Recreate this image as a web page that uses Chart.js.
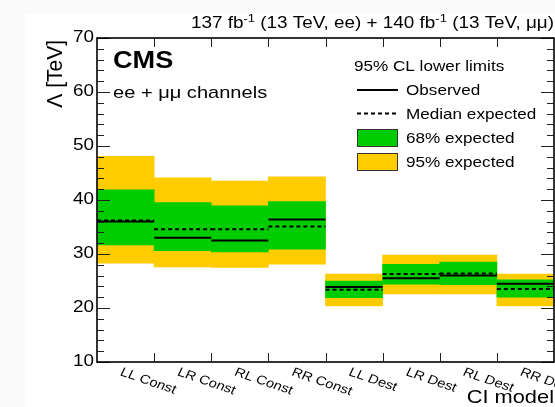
<!DOCTYPE html>
<html>
<head>
<meta charset="utf-8">
<script src="https://cdn.jsdelivr.net/npm/chart.js@4"></script>
<style>
  html, body { margin: 0; padding: 0; background: #fafafa; }
  canvas { display: block; }
</style>
</head>
<body>
<canvas id="myChart" width="555" height="407"></canvas>
<script>
// CI model limits, Lambda in TeV
const models = ['LL Const', 'LR Const', 'RL Const', 'RR Const', 'LL Dest', 'LR Dest', 'RL Dest', 'RR Dest'];
const observed   = [36.0, 33.0, 32.5, 36.4, 23.9, 25.5, 26.0, 24.5];
const expected   = [36.2, 34.6, 34.6, 35.1, 23.4, 26.3, 26.4, 23.5];
const band68Low  = [31.7, 30.6, 30.4, 30.9, 21.9, 24.4, 24.3, 22.0];
const band68High = [41.9, 39.5, 38.9, 39.7, 25.0, 28.1, 28.5, 25.2];
const band95Low  = [28.3, 27.6, 27.5, 28.1, 20.4, 22.6, 22.6, 20.4];
const band95High = [48.1, 44.1, 43.5, 44.3, 26.3, 29.8, 29.8, 26.3];
const yTicks = [10, 20, 30, 40, 50, 60, 70];

const GREEN = '#00cc00';
const YELLOW = '#ffcc00';
const SX = 1.18; // the original picture is a bit stretched sideways
const FONT = '"Liberation Sans", Arial, sans-serif';

// one bar per model, centred in its unit slot on the linear x axis
function bandData(lo, hi) {
  return models.map((m, i) => ({ x: i + 0.5, y: [lo[i], hi[i]] }));
}
// flat segment across each slot, broken between slots
function stepData(vals) {
  const pts = [];
  vals.forEach((v, i) => {
    pts.push({ x: i, y: v });
    pts.push({ x: i + 1, y: v });
    pts.push({ x: i + 1, y: null });
  });
  return pts;
}

function drawText(ctx, str, x, y, font, opts = {}) {
  ctx.save();
  ctx.font = font;
  ctx.fillStyle = '#000';
  ctx.textAlign = opts.align || 'left';
  ctx.textBaseline = opts.baseline || 'alphabetic';
  ctx.translate(x, y);
  ctx.scale(opts.sx || SX, 1);
  if (opts.rotate) ctx.rotate(opts.rotate);
  ctx.fillText(str, 0, 0);
  ctx.restore();
}

const background = {
  id: 'background',
  beforeDraw(chart) {
    const ctx = chart.ctx;
    ctx.save();
    ctx.fillStyle = '#fafafa';
    ctx.fillRect(0, 0, chart.width, chart.height);
    ctx.fillStyle = '#ffffff';
    ctx.fillRect(25, 13, chart.width - 25, chart.height - 13);
    ctx.restore();
  }
};

const frame = {
  id: 'frame',
  afterDatasetsDraw(chart) {
    const ctx = chart.ctx;
    const { left, right, top, bottom } = chart.chartArea;
    const xs = chart.scales.x, ys = chart.scales.y;
    ctx.save();
    // ticks
    ctx.strokeStyle = '#222';
    ctx.lineWidth = 1;
    ctx.beginPath();
    for (let v = ys.min; v <= ys.max; v += 2) {
      const py = Math.round(ys.getPixelForValue(v)) + 0.5;
      const len = v % 10 === 0 ? 13 : 7;
      ctx.moveTo(left, py); ctx.lineTo(left + len, py);
      ctx.moveTo(right, py); ctx.lineTo(right - len, py);
    }
    xs.ticks.forEach(t => {
      if (t.value <= xs.min || t.value >= xs.max) return;
      const px = Math.round(xs.getPixelForValue(t.value)) + 0.5;
      ctx.moveTo(px, bottom); ctx.lineTo(px, bottom - 9);
      ctx.moveTo(px, top); ctx.lineTo(px, top + 9);
    });
    ctx.stroke();
    // box
    ctx.strokeStyle = '#000';
    ctx.lineWidth = 1.6;
    ctx.strokeRect(left, top, right - left, bottom - top);
    ctx.restore();
  },
  afterDraw(chart) {
    const ctx = chart.ctx;
    const { left, right, top, bottom } = chart.chartArea;
    const xs = chart.scales.x, ys = chart.scales.y;

    // y tick labels
    yTicks.forEach(v => {
      drawText(ctx, String(v), left - 3, ys.getPixelForValue(v), '16px ' + FONT, { align: 'right', baseline: 'middle' });
    });
    // x tick labels, slanted
    models.forEach((m, i) => {
      const px = xs.getPixelForValue(i + 0.5);
      drawText(ctx, m, px - 2, bottom + 4, '12.5px ' + FONT, { baseline: 'top', rotate: 22 * Math.PI / 180 });
    });
    // axis titles
    drawText(ctx, 'CI model', right, 403, '18.5px ' + FONT, { align: 'right' });
    drawText(ctx, 'Λ [TeV]', 62, 40, '21px ' + FONT, { align: 'right', rotate: -Math.PI / 2, sx: 1.02 });

    // lumi line with superscripts
    const parts = [
      ['137 fb', false], ['-1', true], [' (13 TeV, ee) + 140 fb', false], ['-1', true], [' (13 TeV, μμ)', false]
    ];
    ctx.save();
    let total = 0;
    parts.forEach(p => {
      ctx.font = (p[1] ? '11px ' : '16px ') + FONT;
      p.push(ctx.measureText(p[0]).width * SX);
      total += p[2];
    });
    ctx.restore();
    let x = right - total;
    parts.forEach(p => {
      drawText(ctx, p[0], x, p[1] ? 22 : 28, (p[1] ? '11px ' : '16px ') + FONT);
      x += p[2];
    });

    // CMS label
    drawText(ctx, 'CMS', 113, 68, 'bold 23px ' + FONT);
    drawText(ctx, 'ee + μμ channels', 113, 98, '17px ' + FONT);

    // legend
    const lx = 357, tx = 406;
    drawText(ctx, '95% CL lower limits', 354, 71, '14.5px ' + FONT);
    ctx.save();
    ctx.strokeStyle = '#000';
    ctx.lineWidth = 2;
    ctx.beginPath(); ctx.moveTo(lx, 90); ctx.lineTo(lx + 41, 90); ctx.stroke();
    ctx.setLineDash([4, 3]);
    ctx.beginPath(); ctx.moveTo(lx, 113.5); ctx.lineTo(lx + 41, 113.5); ctx.stroke();
    ctx.setLineDash([]);
    ctx.lineWidth = 1;
    ctx.strokeStyle = '#333';
    ctx.fillStyle = GREEN;
    ctx.fillRect(lx, 129.5, 41, 17); ctx.strokeRect(lx + 0.5, 129.5, 40, 17);
    ctx.fillStyle = YELLOW;
    ctx.fillRect(lx, 153.5, 41, 17); ctx.strokeRect(lx + 0.5, 153.5, 40, 17);
    ctx.restore();
    drawText(ctx, 'Observed', tx, 95, '14.5px ' + FONT);
    drawText(ctx, 'Median expected', tx, 119, '14.5px ' + FONT);
    drawText(ctx, '68% expected', tx, 143, '14.5px ' + FONT);
    drawText(ctx, '95% expected', tx, 167, '14.5px ' + FONT);
  }
};

new Chart(document.getElementById('myChart'), {
  type: 'bar',
  data: {
    datasets: [
      {
        type: 'line',
        label: 'Observed',
        data: stepData(observed),
        borderColor: '#000',
        borderWidth: 2,
        pointRadius: 0,
        spanGaps: false,
        order: 0
      },
      {
        type: 'line',
        label: 'Median expected',
        data: stepData(expected),
        borderColor: '#000',
        borderWidth: 2,
        borderDash: [4, 3],
        pointRadius: 0,
        spanGaps: false,
        order: 0
      },
      {
        label: '68% expected',
        data: bandData(band68Low, band68High),
        backgroundColor: GREEN,
        borderWidth: 0,
        barPercentage: 1,
        categoryPercentage: 1,
        grouped: false,
        order: 1
      },
      {
        label: '95% expected',
        data: bandData(band95Low, band95High),
        backgroundColor: YELLOW,
        borderWidth: 0,
        barPercentage: 1,
        categoryPercentage: 1,
        grouped: false,
        order: 2
      }
    ]
  },
  options: {
    responsive: false,
    animation: false,
    devicePixelRatio: 1,
    layout: { padding: { left: 97, right: 1, top: 38, bottom: 45 } },
    scales: {
      x: { type: 'linear', min: 0, max: models.length, offset: false, display: false, ticks: { stepSize: 1 } },
      y: { min: 10, max: 70, display: false, ticks: { stepSize: 10 } }
    },
    plugins: {
      legend: { display: false },
      tooltip: { enabled: false }
    }
  },
  plugins: [background, frame]
});
</script>
</body>
</html>
